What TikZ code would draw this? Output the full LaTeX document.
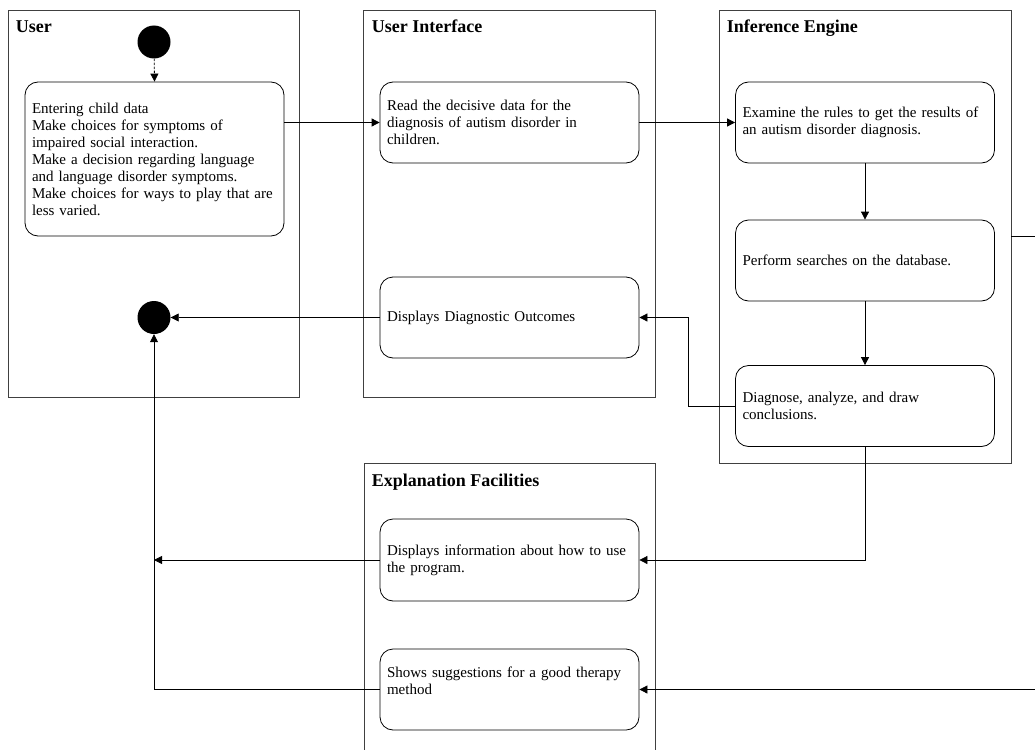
\documentclass[tikz,border=0pt]{standalone}
\usepackage{fontspec}
\setmainfont{Liberation Serif}
\usetikzlibrary{calc,arrows.meta}
\begin{document}
\begin{tikzpicture}[x=1pt,y=-1pt,
  lane/.style={draw=black!75,line width=0.8pt,inner sep=0pt},
  lanetitle/.style={anchor=base west,inner sep=0pt,font=\fontsize{18}{20}\selectfont\bfseries},
  actbox/.style={draw,line width=0.8pt,rounded corners=13pt,minimum width=259pt,minimum height=81pt,
     text width=245pt,inner xsep=7pt,align=left,font=\fontsize{15}{17}\selectfont},
  dot/.style={circle,fill=black,minimum size=33pt,inner sep=0pt},
  conn/.style={line width=0.8pt},
  arr/.style={conn,-{Triangle[length=8pt,width=8pt]}}]
\useasboundingbox (0,0) rectangle (1035,749);
% lanes
\node[lane,minimum width=291pt,minimum height=387pt] (userlane) at (153.5,203.5) {};
\node[lane,minimum width=292pt,minimum height=387pt] (uilane) at (509,203.5) {};
\node[lane,minimum width=292pt,minimum height=453pt] (ielane) at (865,236.5) {};
\node[lane,minimum width=291pt,minimum height=300pt] (eflane) at (509.5,613) {};
\node[lanetitle] (t1) at ($(userlane.north west)+(8,23)$) {User};
\node[lanetitle] (t2) at ($(uilane.north west)+(9,23)$) {User Interface};
\node[lanetitle] (t3) at ($(ielane.north west)+(8,23)$) {Inference Engine};
\node[lanetitle] (t4) at ($(eflane.north west)+(8,24)$) {Explanation Facilities};
% start / end
\node[dot] (start) at (154,42) {};
\node[dot] (end) at (154,317.5) {};
% activities
\node[actbox,minimum height=154pt] (ub) at (154.5,159) {Entering child data\\Make choices for symptoms of\\impaired social interaction.\\Make a decision regarding language\\and language disorder symptoms.\\Make choices for ways to play that are\\less varied.};
\node[actbox] (ui1) at (509.5,122.5) {Read the decisive data for the\\diagnosis of autism disorder in\\children.};
\node[actbox] (ui2) at (509.5,317.5) {Displays Diagnostic Outcomes};
\node[actbox,minimum width=258pt] (ie1) at (865,122.5) {Examine the rules to get the results of\\an autism disorder diagnosis.};
\node[actbox,minimum width=258pt] (ie2) at (865,260.5) {Perform searches on the database.};
\node[actbox,minimum width=258pt] (ie3) at (865,406) {Diagnose, analyze, and draw\\conclusions.};
\node[actbox,minimum height=82pt] (ef1) at (509.5,560) {Displays information about how to use\\the program.};
\node[actbox] (ef2) at (509.5,689.5) {Shows suggestions for a good therapy\\method\\ \mbox{}};
% connectors
\draw[conn,dash pattern=on 2.5pt off 1.5pt,-{Triangle[length=8pt,width=8pt]}] (start) -- (ub.north);
\draw[arr] (ui1.west -| ub.east) -- (ui1.west);
\draw[arr] (ui1.east) -- (ie1.west);
\draw[arr] (ie1.south) -- (ie2.north);
\draw[arr] (ie2.south) -- (ie3.north);
\coordinate (bend1) at (688,406);
\draw[arr] (ie3.west) -- (bend1) |- (ui2.east);
\draw[arr] (ie3.south) |- (ef1.east);
\draw[arr] (ui2.west) -- (end.east);
\coordinate (join) at (154,560);
\draw[arr] (ef1.west) -- (join);
\draw[arr] (ef2.west) -| (end.south);
\coordinate (farright) at (1045,236.5);
\draw[arr] (ielane.east) -- (farright) |- (ef2.east);
\end{tikzpicture}
\end{document}
